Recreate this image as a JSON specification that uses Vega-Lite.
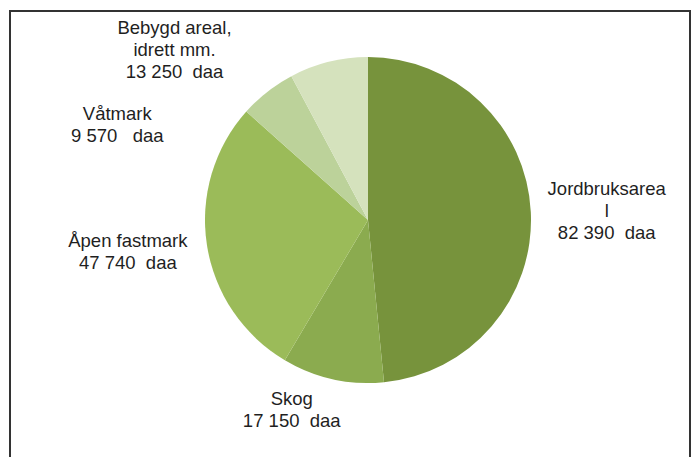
{
  "$schema": "https://vega.github.io/schema/vega-lite/v6.json",
  "width": 680,
  "height": 452,
  "autosize": {"type": "none"},
  "padding": {"left": 10, "top": 11, "right": 4, "bottom": 0},
  "background": "white",
  "view": {"stroke": "#333333", "strokeWidth": 2},
  "config": {
    "view": {"stroke": "#333333", "strokeWidth": 2},
    "style": {"view": {"stroke": "#333333", "strokeWidth": 2}, "cell": {"stroke": "#333333", "strokeWidth": 2}}
  },
  "data": {
    "values": [
      {"omrade": "Jordbruksarea", "label": "Jordbruksarea\nl\n82 390\u00a0\u00a0daa", "daa": 82390, "rekkefolge": 1},
      {"omrade": "Skog", "label": "Skog\n17 150\u00a0\u00a0daa", "daa": 17150, "rekkefolge": 2},
      {"omrade": "Åpen fastmark", "label": "Åpen fastmark\n47 740\u00a0\u00a0daa", "daa": 47740, "rekkefolge": 3},
      {"omrade": "Våtmark", "label": "Våtmark\n9 570\u00a0\u00a0\u00a0daa", "daa": 9570, "rekkefolge": 4},
      {"omrade": "Bebygd areal, idrett mm.", "label": "Bebygd areal,\nidrett mm.\n13 250\u00a0\u00a0daa", "daa": 13250, "rekkefolge": 5}
    ]
  },
  "encoding": {
    "theta": {"field": "daa", "type": "quantitative", "stack": true},
    "order": {"field": "rekkefolge", "type": "quantitative"},
    "detail": {"field": "omrade", "type": "nominal"}
  },
  "layer": [
    {
      "mark": {"type": "arc", "outerRadius": 163, "xOffset": 18, "yOffset": -17},
      "encoding": {
        "color": {
          "field": "omrade",
          "type": "nominal",
          "scale": {
            "domain": ["Jordbruksarea", "Skog", "Åpen fastmark", "Våtmark", "Bebygd areal, idrett mm."],
            "range": ["#77933c", "#8bab4f", "#9bbb59", "#bcd29a", "#d5e2bd"]
          },
          "legend": null
        }
      }
    },
    {
      "mark": {"type": "text", "radius": 239, "xOffset": 18, "yOffset": -17, "dy": -19, "lineBreak": "\n", "fontSize": 18.5, "font": "Liberation Sans", "lineHeight": 22, "align": "center", "baseline": "middle", "color": "#1f1f1f"},
      "encoding": {"text": {"condition": {"test": "datum.omrade === 'Jordbruksarea'", "field": "label", "type": "nominal"}, "value": ""}}
    },
    {
      "mark": {"type": "text", "radius": 195, "xOffset": 18, "yOffset": -17, "dx": -34, "dy": -11, "lineBreak": "\n", "fontSize": 18.5, "font": "Liberation Sans", "lineHeight": 22, "align": "center", "baseline": "middle", "color": "#1f1f1f"},
      "encoding": {"text": {"condition": {"test": "datum.omrade === 'Skog'", "field": "label", "type": "nominal"}, "value": ""}}
    },
    {
      "mark": {"type": "text", "radius": 243, "xOffset": 18, "yOffset": -17, "dy": -16, "lineBreak": "\n", "fontSize": 18.5, "font": "Liberation Sans", "lineHeight": 22, "align": "center", "baseline": "middle", "color": "#1f1f1f"},
      "encoding": {"text": {"condition": {"test": "datum.omrade === 'Åpen fastmark'", "field": "label", "type": "nominal"}, "value": ""}}
    },
    {
      "mark": {"type": "text", "radius": 163, "xOffset": 18, "yOffset": -17, "dx": -150, "dy": 22, "lineBreak": "\n", "fontSize": 18.5, "font": "Liberation Sans", "lineHeight": 22, "align": "center", "baseline": "middle", "color": "#1f1f1f"},
      "encoding": {"text": {"condition": {"test": "datum.omrade === 'Våtmark'", "field": "label", "type": "nominal"}, "value": ""}}
    },
    {
      "mark": {"type": "text", "radius": 163, "xOffset": 18, "yOffset": -17, "dx": -154, "dy": -34, "lineBreak": "\n", "fontSize": 18.5, "font": "Liberation Sans", "lineHeight": 22, "align": "center", "baseline": "middle", "color": "#1f1f1f"},
      "encoding": {"text": {"condition": {"test": "datum.omrade === 'Bebygd areal, idrett mm.'", "field": "label", "type": "nominal"}, "value": ""}}
    }
  ]
}
